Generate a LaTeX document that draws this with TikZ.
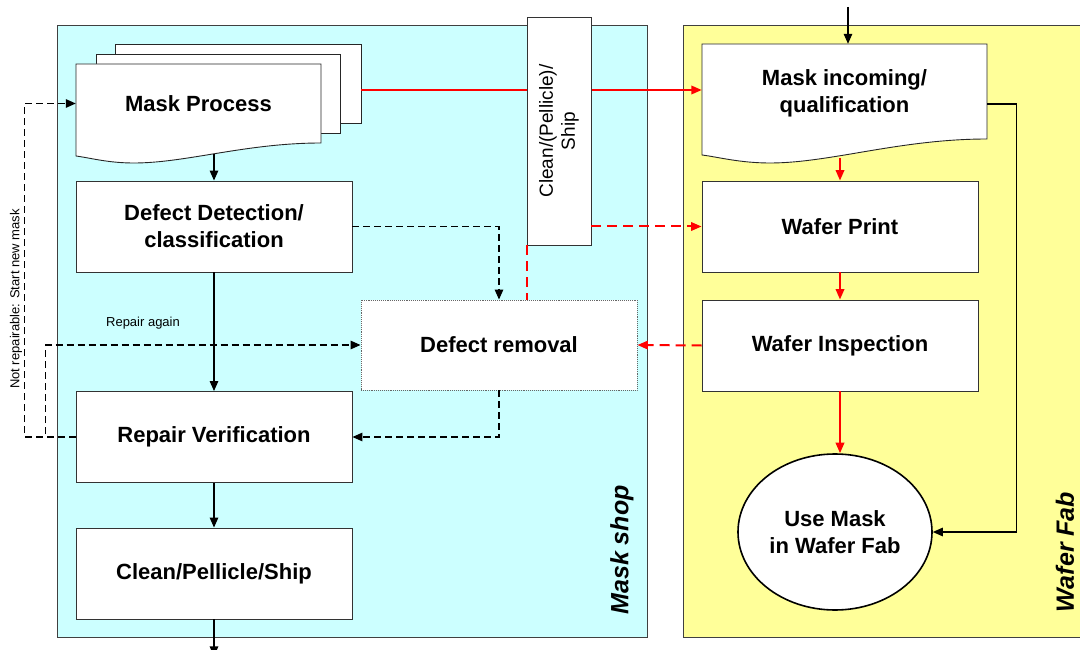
\documentclass[tikz,border=0pt]{standalone}
\usepackage{fontspec}
\setmainfont{Liberation Sans}
\usetikzlibrary{arrows.meta,shapes.geometric}

\newcommand\boxfont{\bfseries\fontsize{22}{27}\selectfont}
\newcommand\notefont{\fontsize{13}{15}\selectfont}
\newcommand\zonefont{\bfseries\itshape\fontsize{25}{30}\selectfont}

\tikzset{
  panel/.style={draw=black!75,line width=0.9pt},
  stepbox/.style={draw=black!80,fill=white,line width=0.9pt,minimum width=276pt,
    minimum height=91pt,inner sep=0pt,align=center,font=\boxfont},
  sheet/.style={draw=black!85,fill=white,line width=0.9pt,inner sep=0pt},
  arr/.style={line width=1.3pt,-{Triangle[length=10pt,width=8.5pt]}},
  darr/.style={arr,dash pattern=on 7pt off 4pt},
  rarr/.style={color=red,line width=2pt,-{Triangle[length=10.5pt,width=8.5pt]}},
  rdarr/.style={rarr,dash pattern=on 10pt off 6pt},
  rdline/.style={color=red,line width=2pt,dash pattern=on 10pt off 6pt},
}

\begin{document}
\begin{tikzpicture}[x=1pt,y=-1pt]
\useasboundingbox (0,0) rectangle (1080,650);
\fill[white] (0,0) rectangle (1080,650);

% zones
\filldraw[panel,fill={rgb,255:red,204;green,255;blue,255}] (57,25) rectangle (647,637);
\filldraw[panel,fill={rgb,255:red,255;green,255;blue,153}] (683,25) rectangle (1095,637);
\node[rotate=90,font=\zonefont] (shoplabel) at (622,550) {Mask shop};
\node[rotate=90,font=\zonefont] (fablabel) at (1065,552) {Wafer Fab};

% mask process: stack of documents
\node[sheet,minimum width=246pt,minimum height=79pt] (sheetC) at (238,83.5) {};
\node[sheet,minimum width=244pt,minimum height=79pt] (sheetB) at (218,93.5) {};
\filldraw[sheet] (76,64) -- (321,64) -- (321,143)
  .. controls (246,143) and (186,163) .. (134,163)
  .. controls (108,163) and (91,158) .. (76,156) -- cycle;
\node[font=\boxfont,minimum width=245pt,minimum height=79pt,inner sep=0pt] (mproc) at (198.5,103.5) {Mask Process};

% mask shop steps
\node[stepbox] (ddet) at (214,226.5) {Defect Detection/\\classification};
\node[stepbox] (rver) at (214,437) {Repair Verification};
\node[stepbox] (cps) at (214,573.5) {Clean/Pellicle/Ship};
\node[stepbox,minimum height=90pt,draw=black!60,densely dotted] (drem) at (499,345) {Defect removal};

% wafer fab: incoming document
\filldraw[sheet] (702,44) -- (987,44) -- (987,139)
  .. controls (900,139) and (830,163) .. (770,163)
  .. controls (740,163) and (718,157) .. (702,155) -- cycle;
\node[font=\boxfont,align=center,minimum width=285pt,minimum height=99pt,inner sep=0pt] (minc) at (844.5,93.5) {Mask incoming/\\qualification};

\node[stepbox] (wprint) at (840,226.5) {Wafer Print};
\node[stepbox] (winsp) at (840,345.5) {Wafer Inspection};
\node[ellipse,draw=black,fill=white,line width=1.6pt,minimum width=194pt,minimum height=156pt,
  inner sep=0pt,align=center,font=\boxfont] (usemask) at (835,532) {Use Mask\\in Wafer Fab};

% shipping path from mask shop to wafer fab
\coordinate (redA) at ([yshift=-6.5pt]sheetC.east);
\draw[rarr] (redA) -- (redA -| minc.west);
\node[draw=black!80,fill=white,line width=0.9pt,minimum width=64pt,minimum height=228pt,inner sep=0pt] (cship) at (559,131) {};
\node[rotate=90,align=center,font=\fontsize{19}{22}\selectfont] (cshiptext) at (cship.center) {Clean/(Pellicle)/\\Ship};
\draw[rdarr] (cship.east |- wprint.west) -- (wprint.west);
\draw[rdline] (cship.south west) -- (cship.south west |- drem.north);

% mask shop flow
\draw[arr] (ddet.north) ++(0,-27) -- (ddet.north);
\draw[arr] (ddet.south) -- (rver.north);
\draw[arr] (rver.south) -- (cps.north);
\draw[arr] (cps.south) -- ++(0,37);
\draw[darr] (ddet.east) -| (drem.north);
\draw[darr] (drem.south) |- (rver.east);
\draw[darr] (rver.west) -- ++(-30,0) |- (drem.west);
\draw[darr] (rver.west) -- ++(-51,0) |- (mproc.west);
\node[font=\notefont] (againlbl) at (143,323) {Repair again};
\node[rotate=90,font=\notefont] (newlbl) at (16,299) {Not repairable: Start new mask};

% wafer fab flow
\coordinate (topin) at (848,7);
\draw[arr] (topin) -- (topin |- minc.north);
\draw[rarr] (wprint.north) ++(0,-23) -- (wprint.north);
\draw[rarr] (wprint.south) -- (winsp.north);
\draw[rarr] (winsp.south) -- (winsp.south |- usemask.north);
\draw[rdarr] (winsp.west) -- (drem.east);
\coordinate (mincR) at ([yshift=-10.5pt]minc.east);
\draw[arr] (mincR) -- ++(29,0) |- (usemask.east);
\end{tikzpicture}
\end{document}
